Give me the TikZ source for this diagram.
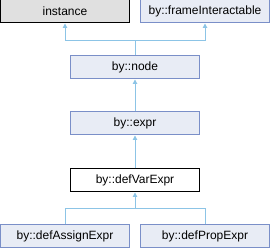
\documentclass[tikz,border=0pt]{standalone}
\usepackage{fontspec}
\setmainfont{Liberation Sans}
\usetikzlibrary{arrows.meta}
\definecolor{edgec}{HTML}{8CC4E6}
\definecolor{boxborder}{HTML}{7A8FC8}
\definecolor{boxfill}{HTML}{E8ECF5}
\definecolor{grayfill}{HTML}{E0E0E0}
\tikzset{
  cls/.style={draw=boxborder, fill=boxfill, line width=1pt, minimum width=129pt, minimum height=23pt, inner sep=0pt, font=\fontsize{12}{14}\selectfont},
  ext/.style={cls, draw=black, fill=grayfill},
  cur/.style={cls, draw=black, fill=white},
  inh/.style={draw=edgec, line width=1pt, -{Triangle[width=4.5pt,length=4.5pt]}},
  inhp/.style={draw=edgec, line width=1pt},
}
\begin{document}
\begin{tikzpicture}[x=1pt,y=1pt]
\useasboundingbox (0,0) rectangle (270,248);
\node[ext] (inst) at (65,236.5) {instance};
\node[cls] (fi) at (205,236.5) {by::frameInteractable};
\node[cls] (nd) at (135,180.5) {by::node};
\node[cls] (ex) at (135,124.5) {by::expr};
\node[cur] (dv) at (135,67.5) {by::defVarExpr};
\node[cls] (da) at (65,11.5) {by::defAssignExpr};
\node[cls] (dp) at (205,11.5) {by::defPropExpr};
\coordinate (j1) at (135,207);
\coordinate (j2) at (135,39);
\draw[inhp] (nd.north) -- (j1);
\draw[inh] (j1) -| (inst.south);
\draw[inh] (j1) -| (fi.south);
\draw[inh] (ex.north) -- (nd.south);
\draw[inh] (dv.north) -- (ex.south);
\draw[inh] (da.north) |- (j2) -- (dv.south);
\draw[inhp] (dp.north) |- (j2);
\end{tikzpicture}
\end{document}
